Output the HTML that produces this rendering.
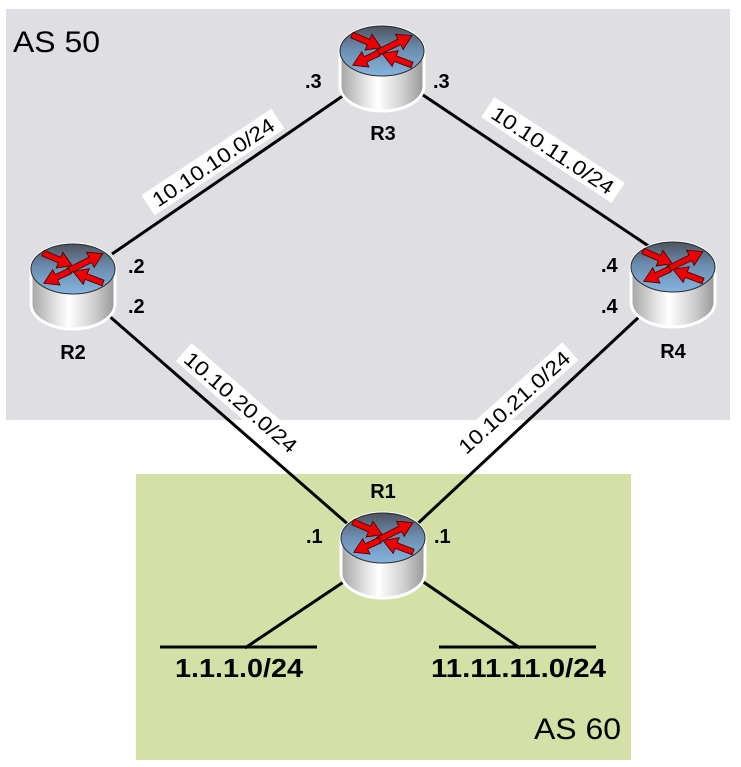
<!DOCTYPE html>
<html><head><meta charset="utf-8"><style>
html,body{margin:0;padding:0;background:#fff;}
svg{display:block;}
text{font-family:"Liberation Sans",Arial,sans-serif;}
</style></head><body>
<svg width="741" height="767" viewBox="0 0 741 767" xmlns="http://www.w3.org/2000/svg">
<defs>
<linearGradient id="side" x1="0" y1="0" x2="1" y2="0">
<stop offset="0" stop-color="#a4a4a4"/><stop offset="0.3" stop-color="#e4e4e4"/><stop offset="0.45" stop-color="#ffffff"/><stop offset="0.75" stop-color="#cfcfcf"/><stop offset="1" stop-color="#979797"/>
</linearGradient>
<linearGradient id="face" x1="0" y1="0" x2="0" y2="1">
<stop offset="0" stop-color="#4d545e"/><stop offset="0.45" stop-color="#6b8cae"/><stop offset="1" stop-color="#84b4df"/>
</linearGradient>
<g id="router">
<path d="M1,26 A42,25 0 0 1 85,26 L85,61 A42,25 0 0 1 1,61 Z" fill="url(#side)" stroke="#fff" stroke-width="3"/>
<ellipse cx="43" cy="26" rx="42" ry="25" fill="url(#face)" stroke="#2a2a2a" stroke-width="1"/>
<g fill="#ee0000" stroke="#3a0000" stroke-width="0.8">
<polygon transform="translate(13,10) rotate(23.4)" points="0,-3 18,-3 18,-8.5 32,0 18,8.5 18,3 0,3"/>
<polygon transform="translate(38,28) rotate(-26.6)" points="0,-3 25,-3 25,-8.5 39,0 25,8.5 25,3 0,3"/>
<polygon transform="translate(40,28) rotate(155)" points="0,-3 15,-3 15,-8.5 29,0 15,8.5 15,3 0,3"/>
<polygon transform="translate(73,40) rotate(201)" points="0,-3 18,-3 18,-8.5 32,0 18,8.5 18,3 0,3"/>
</g>
</g>
</defs>

<rect x="6" y="9" width="724" height="411" fill="#dedee3"/>
<rect x="136" y="474" width="495" height="286" fill="#d3e0a6"/>

<g stroke="#000" stroke-width="3" fill="none">
<line x1="112" y1="254" x2="350" y2="91"/>
<line x1="420" y1="93" x2="650" y2="247"/>
<line x1="108" y1="315" x2="350" y2="526"/>
<line x1="640" y1="316" x2="414" y2="527"/>
<line x1="345" y1="581" x2="245" y2="648"/>
<line x1="422" y1="581" x2="520" y2="648"/>
<line x1="160" y1="647" x2="317" y2="647"/>
<line x1="439" y1="647" x2="596" y2="647"/>
</g>

<g transform="translate(213,162) rotate(-33.7)">
<rect x="-78" y="-12" width="156" height="24" fill="#fff"/>
<text x="0" y="7.5" font-size="20.5" text-anchor="middle" textLength="142" lengthAdjust="spacingAndGlyphs">10.10.10.0/24</text>
</g>
<g transform="translate(553,150) rotate(33.4)">
<rect x="-78" y="-12" width="156" height="24" fill="#fff"/>
<text x="0" y="7.5" font-size="20.5" text-anchor="middle" textLength="142" lengthAdjust="spacingAndGlyphs">10.10.11.0/24</text>
</g>
<g transform="translate(241,402) rotate(41)">
<rect x="-76" y="-12" width="152" height="24" fill="#fff"/>
<text x="0" y="7.5" font-size="20.5" text-anchor="middle" textLength="142" lengthAdjust="spacingAndGlyphs">10.10.20.0/24</text>
</g>
<g transform="translate(514,402) rotate(-42)">
<rect x="-76" y="-12" width="152" height="24" fill="#fff"/>
<text x="0" y="7.5" font-size="20.5" text-anchor="middle" textLength="142" lengthAdjust="spacingAndGlyphs">10.10.21.0/24</text>
</g>

<use href="#router" x="339" y="25"/>
<use href="#router" x="30" y="243"/>
<use href="#router" x="630" y="241"/>
<use href="#router" x="340" y="512"/>

<g font-weight="bold" font-size="20" text-anchor="middle" fill="#000">
<text x="383" y="140">R3</text>
<text x="73" y="359">R2</text>
<text x="673" y="358">R4</text>
<text x="383" y="498">R1</text>
</g>
<g font-weight="bold" font-size="20" fill="#000">
<text x="305" y="88">.3</text>
<text x="433" y="88">.3</text>
<text x="128" y="273">.2</text>
<text x="128" y="313">.2</text>
<text x="601" y="272">.4</text>
<text x="601" y="313">.4</text>
<text x="306" y="543">.1</text>
<text x="434" y="543">.1</text>
</g>

<text x="13" y="52" font-size="30" textLength="87" lengthAdjust="spacingAndGlyphs">AS 50</text>
<text x="534" y="739" font-size="30" textLength="87" lengthAdjust="spacingAndGlyphs">AS 60</text>

<g font-weight="bold" font-size="26">
<text x="175" y="677" textLength="128" lengthAdjust="spacingAndGlyphs">1.1.1.0/24</text>
<text x="431" y="677" textLength="175" lengthAdjust="spacingAndGlyphs">11.11.11.0/24</text>
</g>
</svg>
</body></html>
